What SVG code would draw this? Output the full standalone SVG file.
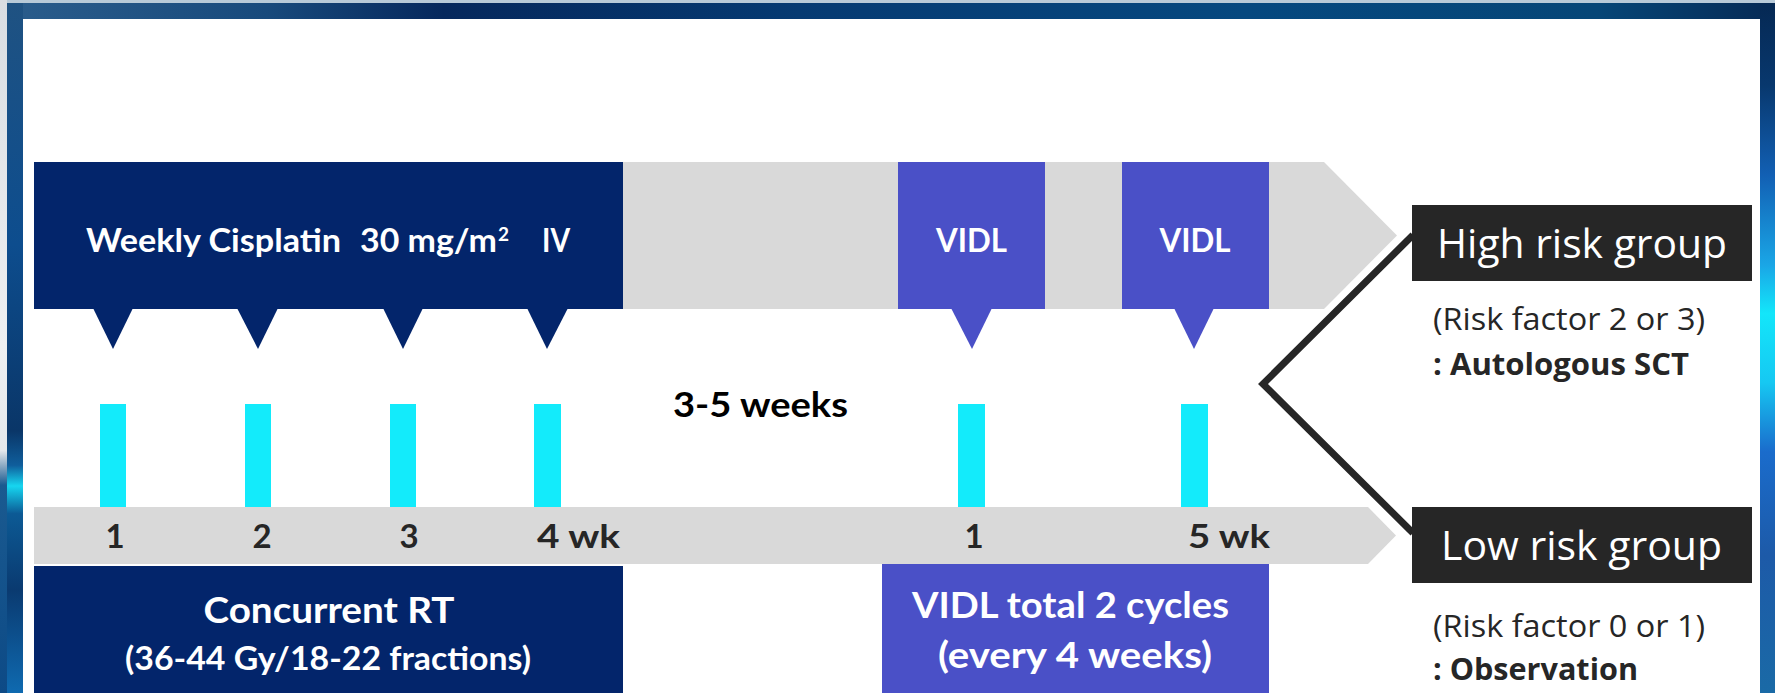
<svg xmlns="http://www.w3.org/2000/svg" width="1775" height="693" viewBox="0 0 1775 693">
  <defs>
    <linearGradient id="gTop" x1="0" y1="0" x2="1" y2="0">
      <stop offset="0" stop-color="#2b5d8c"/>
      <stop offset="0.15" stop-color="#184a7c"/>
      <stop offset="0.25" stop-color="#06285c"/>
      <stop offset="0.45" stop-color="#053a72"/>
      <stop offset="0.7" stop-color="#05487f"/>
      <stop offset="0.9" stop-color="#064677"/>
      <stop offset="1" stop-color="#062a55"/>
    </linearGradient>
    <linearGradient id="gLeft" x1="0" y1="0" x2="0" y2="1">
      <stop offset="0" stop-color="#1f5282"/>
      <stop offset="0.35" stop-color="#0d4d8e"/>
      <stop offset="0.62" stop-color="#0a3668"/>
      <stop offset="0.67" stop-color="#0f5e9c"/>
      <stop offset="0.7" stop-color="#16d6f0"/>
      <stop offset="0.74" stop-color="#0c5a95"/>
      <stop offset="0.85" stop-color="#0a3a70"/>
      <stop offset="1" stop-color="#0f6ab0"/>
    </linearGradient>
    <linearGradient id="gLeftEdge" x1="0" y1="0" x2="0" y2="1">
      <stop offset="0" stop-color="#d9dde2"/>
      <stop offset="0.5" stop-color="#eef0f2"/>
      <stop offset="0.65" stop-color="#e4e8ec"/>
      <stop offset="0.7" stop-color="#1a5a90"/>
      <stop offset="1" stop-color="#0d4a86"/>
    </linearGradient>
    <linearGradient id="gRight" x1="0" y1="0" x2="0" y2="1">
      <stop offset="0" stop-color="#052853"/>
      <stop offset="0.12" stop-color="#08386e"/>
      <stop offset="0.25" stop-color="#1260b4"/>
      <stop offset="0.38" stop-color="#1aa6e6"/>
      <stop offset="0.45" stop-color="#13e6fa"/>
      <stop offset="0.55" stop-color="#16c8f2"/>
      <stop offset="0.65" stop-color="#1a6ccc"/>
      <stop offset="0.8" stop-color="#1d5aa8"/>
      <stop offset="1" stop-color="#1a6aa6"/>
    </linearGradient>
    <style>
      .navy { fill: #03256b; }
      .vidl { fill: #4a50c7; }
      .gray { fill: #d9d9d9; }
      .cyan { fill: #13ebfb; }
      .dark { fill: #262626; }
      .wb { font-family: Lato, "Liberation Sans", sans-serif; font-weight: 700; fill: #ffffff; }
      .kb { font-family: Lato, "Liberation Sans", sans-serif; font-weight: 700; fill: #262626; }
      .ow { font-family: "Open Sans", "Liberation Sans", sans-serif; font-weight: 400; fill: #ffffff; }
      .ok { font-family: "Open Sans", "Liberation Sans", sans-serif; font-weight: 400; fill: #262626; }
      .okb { font-family: "Open Sans", "Liberation Sans", sans-serif; font-weight: 700; fill: #262626; }
      .conn { fill: none; stroke: #262626; stroke-width: 7; stroke-linejoin: miter; }
    </style>
  </defs>

  <g id="background">
    <rect x="0" y="0" width="1775" height="693" fill="#0a3a70"/>
    <rect x="0" y="0" width="1775" height="19" fill="url(#gTop)"/>
    <rect x="0" y="0" width="1775" height="3" fill="#b8cad8"/>
    <rect x="7" y="3" width="16" height="690" fill="url(#gLeft)"/>
    <rect x="0" y="0" width="7" height="693" fill="url(#gLeftEdge)"/>
    <rect x="1760" y="3" width="15" height="690" fill="url(#gRight)"/>
    <rect x="23" y="19" width="1737" height="674" fill="#ffffff"/>
  </g>

  <g id="top-timeline-arrow">
    <polygon class="gray" points="34,162 1324,162 1397,235.5 1324,309 34,309"/>
  </g>

  <g id="cisplatin-box">
    <rect class="navy" x="34" y="162" width="589" height="147"/>
    <polygon class="navy" points="93,308 133,308 113,349"/>
    <polygon class="navy" points="237,308 278,308 258,349"/>
    <polygon class="navy" points="383,308 423,308 403,349"/>
    <polygon class="navy" points="527,308 568,308 547,349"/>
    <text class="wb" x="86" y="252" font-size="33" textLength="255" lengthAdjust="spacingAndGlyphs">Weekly Cisplatin</text>
    <text class="wb" x="360" y="252" font-size="33" textLength="137" lengthAdjust="spacingAndGlyphs">30 mg/m</text>
    <text class="wb" x="498" y="241" font-size="19">2</text>
    <text class="wb" x="542" y="252" font-size="33" textLength="28" lengthAdjust="spacingAndGlyphs">IV</text>
  </g>

  <g id="vidl-1">
    <rect class="vidl" x="898" y="162" width="147" height="147"/>
    <polygon class="vidl" points="951,308 992,308 972,349"/>
    <text class="wb" x="971.5" y="252" font-size="33" text-anchor="middle" textLength="71" lengthAdjust="spacingAndGlyphs">VIDL</text>
  </g>

  <g id="vidl-2">
    <rect class="vidl" x="1122" y="162" width="147" height="147"/>
    <polygon class="vidl" points="1174,308 1214,308 1194,349"/>
    <text class="wb" x="1195" y="252" font-size="33" text-anchor="middle" textLength="71" lengthAdjust="spacingAndGlyphs">VIDL</text>
  </g>

  <g id="rt-bars">
    <rect class="cyan" x="100" y="404" width="26" height="103"/>
    <rect class="cyan" x="245" y="404" width="26" height="103"/>
    <rect class="cyan" x="390" y="404" width="26" height="103"/>
    <rect class="cyan" x="534" y="404" width="27" height="103"/>
    <rect class="cyan" x="958" y="404" width="27" height="103"/>
    <rect class="cyan" x="1181" y="404" width="27" height="103"/>
  </g>

  <g id="interval-label">
    <text class="kb" x="673" y="417" font-size="34" textLength="175" lengthAdjust="spacingAndGlyphs" style="fill:#000000">3-5 weeks</text>
  </g>

  <g id="week-axis">
    <polygon class="gray" points="34,507 1368,507 1396,535.5 1368,564 34,564"/>
    <text class="kb" x="115" y="548" font-size="33" text-anchor="middle">1</text>
    <text class="kb" x="262" y="548" font-size="33" text-anchor="middle">2</text>
    <text class="kb" x="409" y="548" font-size="33" text-anchor="middle">3</text>
    <text class="kb" x="537" y="548" font-size="33" textLength="83" lengthAdjust="spacingAndGlyphs">4 wk</text>
    <text class="kb" x="974" y="548" font-size="33" text-anchor="middle">1</text>
    <text class="kb" x="1188" y="548" font-size="33" textLength="82" lengthAdjust="spacingAndGlyphs">5 wk</text>
  </g>

  <g id="concurrent-rt">
    <rect class="navy" x="34" y="566" width="589" height="127"/>
    <text class="wb" x="329" y="623" font-size="36" text-anchor="middle" textLength="251" lengthAdjust="spacingAndGlyphs">Concurrent RT</text>
    <text class="wb" x="328" y="670" font-size="33" text-anchor="middle" textLength="406" lengthAdjust="spacingAndGlyphs">(36-44 Gy/18-22 fractions)</text>
  </g>

  <g id="vidl-total">
    <rect class="vidl" x="882" y="564" width="387" height="129"/>
    <text class="wb" x="1070.5" y="618" font-size="36" text-anchor="middle" textLength="317" lengthAdjust="spacingAndGlyphs">VIDL total 2 cycles</text>
    <text class="wb" x="1075" y="668" font-size="36" text-anchor="middle" textLength="274" lengthAdjust="spacingAndGlyphs">(every 4 weeks)</text>
  </g>

  <g id="connectors">
    <polyline class="conn" points="1413,235 1263,384 1413,533"/>
  </g>

  <g id="high-risk">
    <rect class="dark" x="1412" y="205" width="340" height="76"/>
    <text class="ow" x="1437" y="258" font-size="41" textLength="290" lengthAdjust="spacingAndGlyphs">High risk group</text>
    <text class="ok" x="1433" y="330" font-size="31" textLength="272" lengthAdjust="spacingAndGlyphs">(Risk factor 2 or 3)</text>
    <text class="okb" x="1433" y="375" font-size="31" textLength="256" lengthAdjust="spacingAndGlyphs">: Autologous SCT</text>
  </g>

  <g id="low-risk">
    <rect class="dark" x="1412" y="507" width="340" height="76"/>
    <text class="ow" x="1441" y="560" font-size="41" textLength="281" lengthAdjust="spacingAndGlyphs">Low risk group</text>
    <text class="ok" x="1433" y="637" font-size="31" textLength="272" lengthAdjust="spacingAndGlyphs">(Risk factor 0 or 1)</text>
    <text class="okb" x="1433" y="680" font-size="31" textLength="205" lengthAdjust="spacingAndGlyphs">: Observation</text>
  </g>
</svg>
